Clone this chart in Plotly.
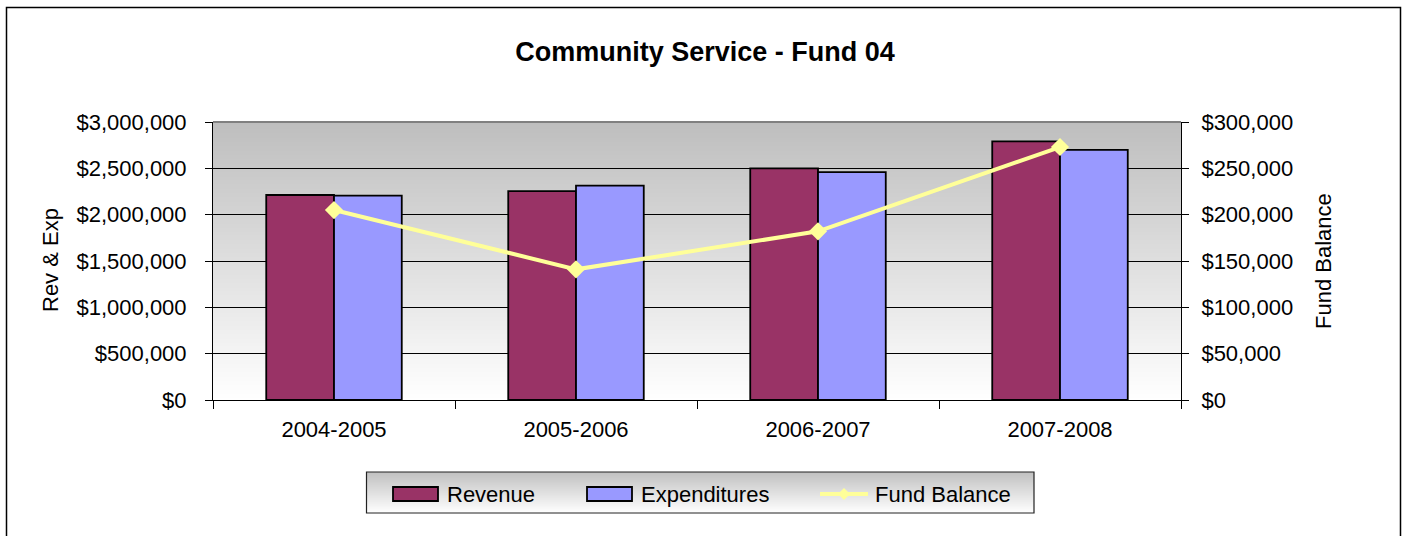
import base64
import struct
import zlib

import plotly.graph_objects as go

# Fiscal years and series values
categories = ["2004-2005", "2005-2006", "2006-2007", "2007-2008"]
revenue = [2212000, 2255000, 2500000, 2790000]
expenditures = [2206000, 2313000, 2460000, 2700000]
fund_balance = [205000, 141000, 182000, 273000]

series_names = ["Revenue", "Expenditures", "Fund Balance"]
colors = {"Revenue": "#993366", "Expenditures": "#9999FF", "Fund Balance": "#FFFF99"}

FONT = "Liberation Sans, Arial, sans-serif"
W, H = 1403, 536
L, R, T, B = 213, 1181, 122, 400  # plot area in pixels


def px(x):
    return (x - L) / (R - L)


def py(y):
    return (B - y) / (B - T)


def gradient_png(top, bottom, n=256):
    """Vertical grey gradient as a PNG data URI."""
    rows = []
    for i in range(n):
        v = int(round(top + (bottom - top) * i / (n - 1)))
        rows.append(b"\x00" + bytes([v, v, v]) * 4)
    raw = b"".join(rows)

    def chunk(typ, data):
        return (struct.pack(">I", len(data)) + typ + data
                + struct.pack(">I", zlib.crc32(typ + data) & 0xFFFFFFFF))

    png = (b"\x89PNG\r\n\x1a\n"
           + chunk(b"IHDR", struct.pack(">IIBBBBB", 4, n, 8, 2, 0, 0, 0))
           + chunk(b"IDAT", zlib.compress(raw))
           + chunk(b"IEND", b""))
    return "data:image/png;base64," + base64.b64encode(png).decode()


fig = go.Figure()
fig.add_trace(go.Bar(
    x=categories, y=revenue, name="Revenue",
    marker=dict(color=colors["Revenue"], line=dict(color="black", width=1.8)),
    showlegend=False,
))
fig.add_trace(go.Bar(
    x=categories, y=expenditures, name="Expenditures",
    marker=dict(color=colors["Expenditures"], line=dict(color="black", width=1.8)),
    showlegend=False,
))
fig.add_trace(go.Scatter(
    x=categories, y=fund_balance, name="Fund Balance", yaxis="y2",
    mode="lines+markers",
    line=dict(color=colors["Fund Balance"], width=4),
    marker=dict(symbol="diamond", size=14, color=colors["Fund Balance"]),
    showlegend=False,
))

shapes = []
annotations = []
images = []

# Plot-area gradient background
images.append(dict(
    source=gradient_png(190, 255), xref="paper", yref="paper",
    x=0, y=1, sizex=1, sizey=1, sizing="stretch",
    xanchor="left", yanchor="top", layer="below",
))
# Grey top edge of the plot area
shapes.append(dict(type="line", xref="paper", yref="paper", x0=0, x1=1, y0=1, y1=1,
                   line=dict(color="#808080", width=2)))

# Outer chart border
shapes.append(dict(type="rect", xref="paper", yref="paper",
                   x0=px(6.5), x1=px(1400.5), y0=py(545), y1=py(7.5),
                   line=dict(color="black", width=1.5), fillcolor="rgba(0,0,0,0)"))

# Legend box with gradient
lx0, lx1, ly0, ly1 = 366.5, 1034, 472, 513
images.append(dict(
    source=gradient_png(192, 255), xref="paper", yref="paper",
    x=px(lx0), y=py(ly0), sizex=(lx1 - lx0) / (R - L), sizey=(ly1 - ly0) / (B - T),
    sizing="stretch", xanchor="left", yanchor="top", layer="below",
))
shapes.append(dict(type="rect", xref="paper", yref="paper",
                   x0=px(lx0), x1=px(lx1), y0=py(ly1), y1=py(ly0),
                   line=dict(color="#222222", width=1.2), fillcolor="rgba(0,0,0,0)"))

legend_y = 494
entry_x = {"Revenue": 393, "Expenditures": 587, "Fund Balance": 820}
for name in series_names:
    x0 = entry_x[name]
    if name == "Fund Balance":
        shapes.append(dict(type="line", xref="paper", yref="paper",
                           x0=px(x0), x1=px(x0 + 48), y0=py(legend_y), y1=py(legend_y),
                           line=dict(color=colors[name], width=4)))
        cx = x0 + 24
        d = 6
        shapes.append(dict(type="path", xref="paper", yref="paper",
                           path=(f"M {px(cx - d)} {py(legend_y)} L {px(cx)} {py(legend_y - d)} "
                                 f"L {px(cx + d)} {py(legend_y)} L {px(cx)} {py(legend_y + d)} Z"),
                           fillcolor=colors[name], line=dict(width=0)))
        tx = x0 + 53
    else:
        shapes.append(dict(type="rect", xref="paper", yref="paper",
                           x0=px(x0), x1=px(x0 + 45), y0=py(legend_y + 7), y1=py(legend_y - 7),
                           fillcolor=colors[name], line=dict(color="black", width=1.8)))
        tx = x0 + 52
    annotations.append(dict(text=name, xref="paper", yref="paper", x=px(tx), y=py(legend_y),
                            xanchor="left", yanchor="middle", showarrow=False,
                            font=dict(family=FONT, size=22, color="black")))

# Axis titles
annotations.append(dict(text="Rev & Exp", xref="paper", yref="paper", x=px(50), y=py(260),
                        textangle=-90, showarrow=False, xanchor="center", yanchor="middle",
                        font=dict(family=FONT, size=22, color="black")))
annotations.append(dict(text="Fund Balance", xref="paper", yref="paper", x=px(1323), y=py(261),
                        textangle=-90, showarrow=False, xanchor="center", yanchor="middle",
                        font=dict(family=FONT, size=22, color="black")))

fig.update_layout(
    width=W, height=H,
    margin=dict(l=L, r=W - R, t=T, b=H - B, autoexpand=False),
    paper_bgcolor="white",
    plot_bgcolor="rgba(0,0,0,0)",
    barmode="group", bargap=0.44, bargroupgap=0,
    title=dict(text="<b>Community Service - Fund 04</b>", x=px(705), xref="paper",
               xanchor="center", y=1 - 52 / H, yref="container", yanchor="middle",
               font=dict(family=FONT, size=27, color="black")),
    font=dict(family=FONT, size=22, color="black"),
    xaxis=dict(
        type="category", tickson="boundaries", ticks="outside", ticklen=8,
        tickcolor="black", showline=True, linecolor="black", linewidth=1,
        showgrid=False, tickfont=dict(size=22), ticklabelstandoff=10,
    ),
    yaxis=dict(
        range=[0, 3000000], dtick=500000, tickformat="$,.0f",
        ticks="outside", ticklen=7, tickcolor="black",
        showline=True, linecolor="black", linewidth=1,
        showgrid=True, gridcolor="black", gridwidth=1, zeroline=False,
        tickfont=dict(size=22), ticklabelstandoff=14,
    ),
    yaxis2=dict(
        range=[0, 300000], dtick=50000, tickformat="$,.0f",
        overlaying="y", side="right", ticks="outside", ticklen=7, tickcolor="black",
        showline=True, linecolor="black", linewidth=1,
        showgrid=False, zeroline=False, tickfont=dict(size=22), ticklabelstandoff=8,
    ),
    shapes=shapes,
    annotations=annotations,
    images=images,
)

fig.write_html("out.html")
